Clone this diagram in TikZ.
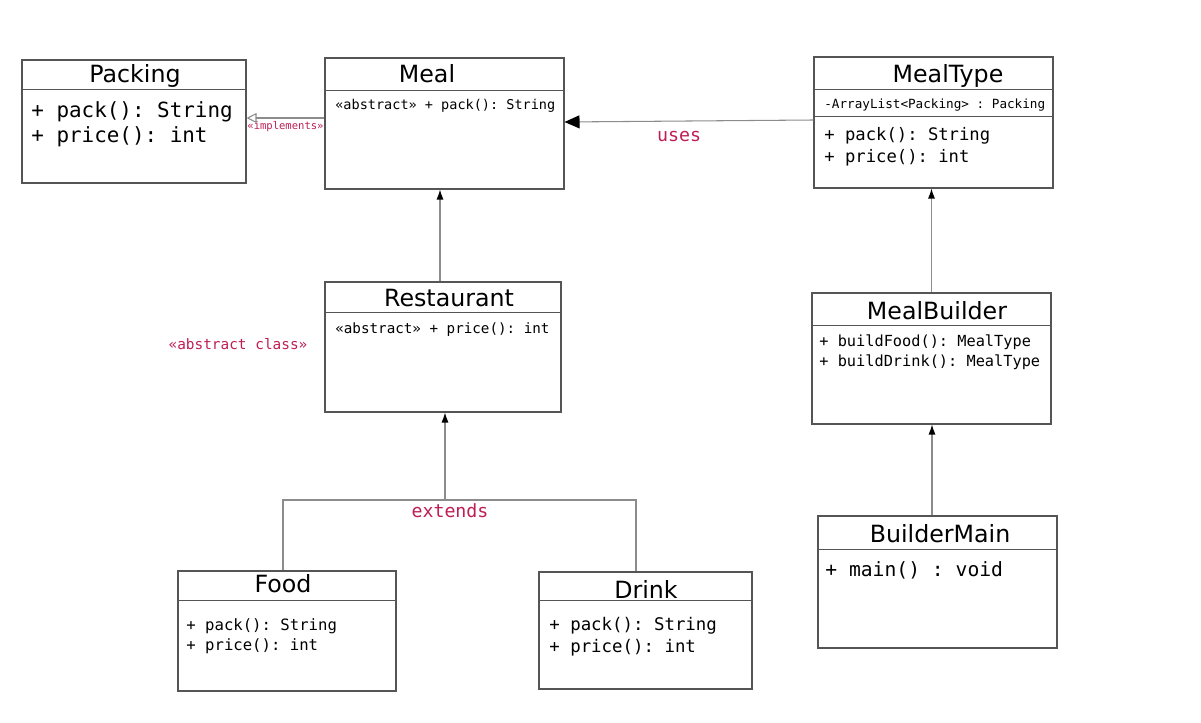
\documentclass[tikz,border=0pt]{standalone}
\usepackage{fontspec}
\setmonofont{DejaVu Sans Mono}
\newfontfamily\headfont{DejaVu Sans}
\usetikzlibrary{arrows.meta,fit,positioning}
\newdimen\px
\px=0.02cm
\definecolor{umlpink}{RGB}{190,30,85}
\definecolor{boxgray}{RGB}{85,85,85}
\definecolor{linegray}{RGB}{140,140,140}
\tikzset{
  >=Latex,
  classbox/.style={draw=boxgray,line width=0.6pt,inner sep=0},
  title/.style={font=\headfont\fontsize{13.5}{16}\selectfont,inner sep=0},
  sep/.style={draw=boxgray,line width=0.5pt},
  member/.style 2 args={font=\ttfamily\fontsize{#1}{#2}\selectfont,anchor=west,align=left,inner sep=0},
  note/.style={text=umlpink,font=\ttfamily\fontsize{#1}{#1}\selectfont,inner sep=0},
  line/.style={draw=linegray,line width=0.6pt},
  inherit/.style={line,-{Latex[black,length=2mm,width=1.4mm]}},
  realize/.style={line,-{Triangle[open,length=2mm,width=2mm]}},
  uses/.style={line,-{Triangle[black,length=3mm,width=2.6mm]}}
}
\begin{document}
\begin{tikzpicture}[x=\px,y=-\px]
    \useasboundingbox (0,0) rectangle (1201,723);

    % classes
    \node (packing) [classbox,fit={(22,60) (246,183)}] {};
    \node (meal) [classbox,fit={(325,58) (564,189)}] {};
    \node (mealtype) [classbox,fit={(814,57) (1053,188)}] {};
    \node (restaurant) [classbox,fit={(325,282) (561,412)}] {};
    \node (mealbuilder) [classbox,fit={(812,293) (1051,424)}] {};
    \node (buildermain) [classbox,fit={(818,516) (1057,648)}] {};
    \node (food) [classbox,fit={(178,571) (396,691)}] {};
    \node (drink) [classbox,fit={(539,572) (752,689)}] {};

    \path [sep] ([yshift=-30*\px]packing.north west) -- ([yshift=-30*\px]packing.north east);
    \path [sep] ([yshift=-33*\px]meal.north west) -- ([yshift=-33*\px]meal.north east);
    \path [sep] ([yshift=-33*\px]mealtype.north west) -- ([yshift=-33*\px]mealtype.north east);
    \path [sep] ([yshift=-60*\px]mealtype.north west) -- ([yshift=-60*\px]mealtype.north east);
    \path [sep] ([yshift=-31*\px]restaurant.north west) -- ([yshift=-31*\px]restaurant.north east);
    \path [sep] ([yshift=-33*\px]mealbuilder.north west) -- ([yshift=-33*\px]mealbuilder.north east);
    \path [sep] ([yshift=-34*\px]buildermain.north west) -- ([yshift=-34*\px]buildermain.north east);
    \path [sep] ([yshift=-30*\px]food.north west) -- ([yshift=-30*\px]food.north east);
    \path [sep] ([yshift=-29*\px]drink.north west) -- ([yshift=-29*\px]drink.north east);

    \node (packing-title) [title] at (135,76) {Packing};
    \node (meal-title) [title] at (427,74) {Meal};
    \node (mealtype-title) [title] at (948,76) {MealType};
    \node (restaurant-title) [title] at (449,298) {Restaurant};
    \node (mealbuilder-title) [title] at (937,311) {MealBuilder};
    \node (buildermain-title) [title] at (940,534) {BuilderMain};
    \node (food-title) [title] at (283,584) {Food};
    \node (drink-title) [title] at (646,589) {Drink};

    \node (packing-ops) [member={11.9}{14.2}] at (31,124.5) {+ pack(): String\\+ price(): int};
    \node (meal-ops) [member={7.7}{9}] at (335,106) {«abstract» + pack(): String};
    \node (mealtype-attr) [member={7.2}{9}] at (824,105) {-ArrayList<Packing> : Packing};
    \node (mealtype-ops) [member={9.8}{12.5}] at (824,147) {+ pack(): String\\+ price(): int};
    \node (restaurant-ops) [member={8.1}{10}] at (335,330) {«abstract» + price(): int};
    \node (mealbuilder-ops) [member={8.7}{11.3}] at (819,352) {+ buildFood(): MealType\\+ buildDrink(): MealType};
    \node (buildermain-ops) [member={11.2}{13}] at (825,570) {+ main() : void};
    \node (food-ops) [member={8.9}{11.3}] at (186,636) {+ pack(): String\\+ price(): int};
    \node (drink-ops) [member={9.9}{12.5}] at (549,637) {+ pack(): String\\+ price(): int};

    \node (abstract-note) [note=8.2] at (238,344) {«abstract class»};

    % relations
    \path [realize] ([yshift=5.5*\px]meal.west) -- ([yshift=3.5*\px]packing.east)
      node [note=6, pos=0.5, yshift=-9*\px] {«implements»};
    \path [uses] ([yshift=2.5*\px]mealtype.west) -- ([yshift=1.5*\px]meal.east)
      node [note=10.4, pos=0.54, yshift=-15*\px] {uses};
    \path [inherit] ([xshift=-3*\px]restaurant.north) -- ([xshift=-3*\px]restaurant.north |- meal.south);
    \path [inherit] (mealbuilder.north) -- (mealbuilder.north |- mealtype.south);
    \path [inherit] ([xshift=-5.5*\px]buildermain.north) -- ([xshift=-5.5*\px]buildermain.north |- mealbuilder.south);

    \coordinate (join) at (445,500);
    \path [line] ([xshift=-4*\px]food.north) |- (join) -| ([xshift=-9.5*\px]drink.north);
    \path [inherit] (join) -- (join |- restaurant.south);
    \node (extends) [note=10.4, below=3*\px of join, xshift=5*\px] {extends};
  \end{tikzpicture}
\end{document}
